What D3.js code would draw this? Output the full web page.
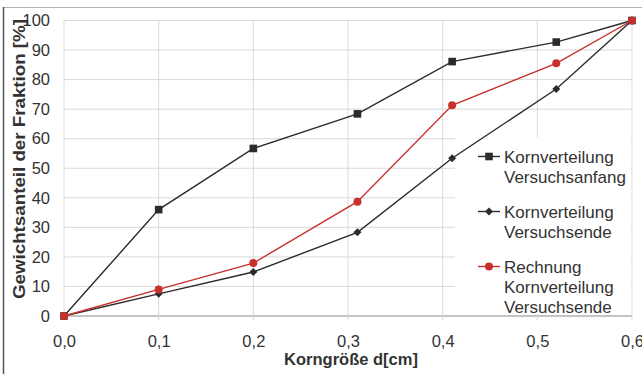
<!DOCTYPE html>
<html>
<head>
<meta charset="utf-8">
<script src="https://cdn.jsdelivr.net/npm/d3@7"></script>
<style>
  html, body { margin: 0; padding: 0; background: #fff; }
  svg { display: block; font-family: "Liberation Sans", Arial, sans-serif; }
</style>
</head>
<body>
<svg id="chart" width="642" height="374"></svg>
<script>
// Grain size (cm) at each sieve and cumulative mass share (%)
const grainSizes = [0.0, 0.1, 0.2, 0.31, 0.41, 0.52, 0.6];
const startValues = [0, 36, 56.7, 68.4, 86.1, 92.7, 100];      // Kornverteilung Versuchsanfang
const endValues = [0, 7.5, 14.9, 28.3, 53.4, 76.8, 100];       // Kornverteilung Versuchsende
const calcValues = [0, 9, 17.9, 38.7, 71.3, 85.5, 100];        // Rechnung Kornverteilung Versuchsende

const xTicks = [0, 0.1, 0.2, 0.3, 0.4, 0.5, 0.6];
const yTicks = [0, 10, 20, 30, 40, 50, 60, 70, 80, 90, 100];

const seriesNames = [
  ["Kornverteilung", "Versuchsanfang"],
  ["Kornverteilung", "Versuchsende"],
  ["Rechnung", "Kornverteilung", "Versuchsende"]
];

const svg = d3.select("#chart");
const plotLeft = 64, plotRight = 632, plotTop = 20.5, plotBottom = 316;

const x = d3.scaleLinear().domain([0, 0.6]).range([plotLeft, plotRight]);
const y = d3.scaleLinear().domain([0, 100]).range([plotBottom, plotTop]);

// outer frame
svg.append("line").attr("x1", 3).attr("x2", 642).attr("y1", 7.5).attr("y2", 7.5)
  .attr("stroke", "#b5b5b5").attr("stroke-width", 1);
svg.append("line").attr("x1", 3.5).attr("x2", 3.5).attr("y1", 7).attr("y2", 374)
  .attr("stroke", "#555").attr("stroke-width", 1.5);

// gridlines
const grid = svg.append("g");
grid.selectAll("line.h").data(yTicks).join("line")
  .attr("x1", plotLeft).attr("x2", plotRight)
  .attr("y1", d => y(d)).attr("y2", d => y(d))
  .attr("stroke", d => d === 0 ? "#8a8a8a" : "#d9d9d9")
  .attr("stroke-width", d => d === 0 ? 1.2 : 1);
grid.selectAll("line.v").data(xTicks).join("line")
  .attr("y1", plotTop).attr("y2", plotBottom + 4)
  .attr("x1", d => x(d)).attr("x2", d => x(d))
  .attr("stroke", "#d9d9d9").attr("stroke-width", 1);

// legend background
svg.append("rect").attr("x", 455).attr("y", 137).attr("width", 176).attr("height", 177)
  .attr("fill", "#fff");

// axes labels
const yAxis = d3.axisLeft(y).tickValues(yTicks).tickSize(0).tickPadding(14);
const gy = svg.append("g").attr("transform", `translate(${plotLeft},0)`).call(yAxis);
gy.select(".domain").remove();
gy.selectAll("text").attr("font-size", 16.5).attr("fill", "#333")
  .attr("font-family", "Liberation Sans, Arial, sans-serif");

const xAxis = d3.axisBottom(x).tickValues(xTicks).tickSize(0).tickPadding(19)
  .tickFormat(d => d3.format(".1f")(d).replace(".", ","));
const gx = svg.append("g").attr("transform", `translate(0,${plotBottom})`).call(xAxis);
gx.select(".domain").remove();
gx.selectAll("text").attr("font-size", 16.5).attr("fill", "#333")
  .attr("font-family", "Liberation Sans, Arial, sans-serif");

// axis titles
svg.append("text").attr("x", 351).attr("y", 365).attr("text-anchor", "middle")
  .attr("font-size", 16.5).attr("font-weight", "bold").attr("fill", "#333")
  .text("Korngröße d[cm]");
svg.append("text").attr("transform", "translate(25,159) rotate(-90)")
  .attr("text-anchor", "middle").attr("font-size", 16).attr("font-weight", "bold").attr("fill", "#333")
  .attr("textLength", 280).attr("lengthAdjust", "spacingAndGlyphs")
  .text("Gewichtsanteil der Fraktion [%]");

// series
const line = d3.line().x(d => x(d[0])).y(d => y(d[1]));
const series = [
  { values: startValues, color: "#2b2b2b", marker: "square" },
  { values: endValues, color: "#2b2b2b", marker: "diamond" },
  { values: calcValues, color: "#c8302c", marker: "circle" }
];

function drawMarker(g, type, color) {
  if (type === "square") g.append("rect").attr("x", -3.8).attr("y", -3.8).attr("width", 7.6).attr("height", 7.6).attr("fill", color);
  else if (type === "diamond") g.append("path").attr("d", "M0,-4L4,0L0,4L-4,0Z").attr("fill", color);
  else g.append("circle").attr("r", 4).attr("fill", color);
}

series.forEach(s => {
  const pts = grainSizes.map((g, i) => [g, s.values[i]]);
  svg.append("path").datum(pts).attr("d", line).attr("fill", "none")
    .attr("stroke", s.color).attr("stroke-width", 1.4);
  pts.forEach(p => {
    const g = svg.append("g").attr("transform", `translate(${x(p[0])},${y(p[1])})`);
    drawMarker(g, s.marker, s.color);
  });
});

// legend
const legendY = [156.5, 211.5, 266.5];
series.forEach((s, i) => {
  const ly = legendY[i];
  svg.append("line").attr("x1", 478).attr("x2", 500).attr("y1", ly).attr("y2", ly)
    .attr("stroke", s.color).attr("stroke-width", 1.4);
  const g = svg.append("g").attr("transform", `translate(489,${ly})`);
  drawMarker(g, s.marker, s.color);
  seriesNames[i].forEach((t, j) => {
    svg.append("text").attr("x", 504).attr("y", ly + 6 + j * 20)
      .attr("font-size", 17).attr("fill", "#333").text(t);
  });
});
</script>
</body>
</html>
